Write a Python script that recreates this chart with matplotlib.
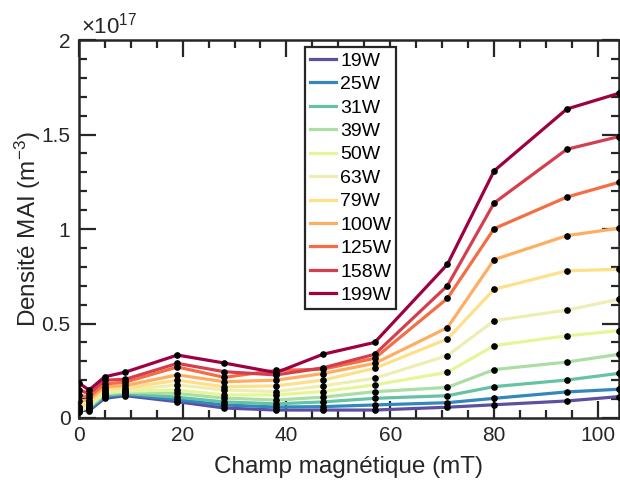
import numpy as np
import matplotlib
matplotlib.use("Agg")
import matplotlib.pyplot as plt
from matplotlib.ticker import MultipleLocator, FuncFormatter

plt.rcParams['font.family'] = ['Liberation Sans', 'DejaVu Sans']
plt.rcParams['mathtext.fontset'] = 'custom'
plt.rcParams['mathtext.rm'] = 'Liberation Sans'
plt.rcParams['mathtext.it'] = 'Liberation Sans:italic'

# Champ magnétique (mT)
champ = [0, 2, 5, 9, 19, 28, 38, 47, 57, 71, 80, 94, 104]

# Densité MAI, en unités de 1e17 m^-3
d19 = [0.040, 0.039, 0.104, 0.118, 0.086, 0.053, 0.042, 0.042, 0.042, 0.057, 0.070, 0.090, 0.113]
d25 = [0.050, 0.045, 0.112, 0.124, 0.097, 0.069, 0.058, 0.060, 0.069, 0.081, 0.104, 0.138, 0.152]
d31 = [0.060, 0.052, 0.120, 0.130, 0.110, 0.085, 0.075, 0.085, 0.104, 0.118, 0.166, 0.201, 0.236]
d39 = [0.045, 0.058, 0.127, 0.136, 0.130, 0.105, 0.095, 0.110, 0.139, 0.162, 0.256, 0.296, 0.337]
d50 = [0.035, 0.064, 0.134, 0.142, 0.148, 0.122, 0.122, 0.140, 0.175, 0.242, 0.383, 0.435, 0.462]
d63 = [0.030, 0.072, 0.142, 0.148, 0.175, 0.148, 0.140, 0.170, 0.210, 0.330, 0.515, 0.571, 0.628]
d79 = [0.055, 0.082, 0.152, 0.158, 0.200, 0.165, 0.170, 0.200, 0.263, 0.418, 0.681, 0.779, 0.787]
d100 = [0.090, 0.095, 0.165, 0.172, 0.228, 0.192, 0.200, 0.235, 0.289, 0.478, 0.838, 0.965, 1.004]
d125 = [0.120, 0.110, 0.180, 0.190, 0.270, 0.215, 0.252, 0.258, 0.316, 0.633, 1.002, 1.169, 1.247]
d158 = [0.150, 0.128, 0.200, 0.205, 0.289, 0.245, 0.228, 0.265, 0.337, 0.700, 1.138, 1.422, 1.489]
d199 = [0.185, 0.148, 0.218, 0.243, 0.333, 0.291, 0.240, 0.337, 0.400, 0.813, 1.308, 1.635, 1.718]

labels = ['19W', '25W', '31W', '39W', '50W', '63W', '79W', '100W', '125W', '158W', '199W']
series = [d19, d25, d31, d39, d50, d63, d79, d100, d125, d158, d199]
colors = ['#5e4fa2', '#3288bd', '#66c2a5', '#abdda4', '#e6f598', '#eeeeb4',
          '#fee08b', '#fdae61', '#f46d43', '#d53e4f', '#9e0142']

fig = plt.figure(figsize=(6.2, 4.83), dpi=100)
ax = fig.add_axes([0.127, 0.1346, 0.871, 0.7825])

for vals, lab, col in zip(series, labels, colors):
    ax.plot(champ, vals, color=col, lw=2.3, label=lab, zorder=2)
for vals in series:
    ax.plot(champ, vals, ls='none', marker='o', ms=3.8, color='black', zorder=3)

ax.set_xlim(0, 104)
ax.set_ylim(0, 2)
ax.xaxis.set_major_locator(MultipleLocator(20))
ax.xaxis.set_minor_locator(MultipleLocator(5))
ax.yaxis.set_major_locator(MultipleLocator(0.5))
ax.yaxis.set_minor_locator(MultipleLocator(0.1))
ax.yaxis.set_major_formatter(FuncFormatter(lambda v, p: '%g' % v))

dark = '#262626'
ax.tick_params(which='both', direction='in', top=True, right=True,
               colors=dark, labelsize=15, width=1.6)
ax.tick_params(which='major', length=12, pad=6)
ax.tick_params(which='minor', length=6)
for s in ax.spines.values():
    s.set_linewidth(1.8)
    s.set_color(dark)

ax.set_xlabel('Champ magnétique (mT)', fontsize=17.5, color=dark, labelpad=8)
ax.set_ylabel('Densité MAI (m$^{-3}$)', fontsize=17.5, color=dark, labelpad=-1)
ax.text(0.005, 1.004, '×10$^{17}$', transform=ax.transAxes,
        fontsize=16, color=dark, va='bottom', ha='left')

leg = ax.legend(loc='upper left', bbox_to_anchor=(0.419, 0.981), fontsize=14,
                frameon=True, fancybox=False, edgecolor=dark, framealpha=1,
                handlelength=1.35, handletextpad=0.2, labelspacing=0.3,
                borderpad=0.25, borderaxespad=0)
leg.get_frame().set_linewidth(1.6)

fig.savefig('out.png', dpi=100)
